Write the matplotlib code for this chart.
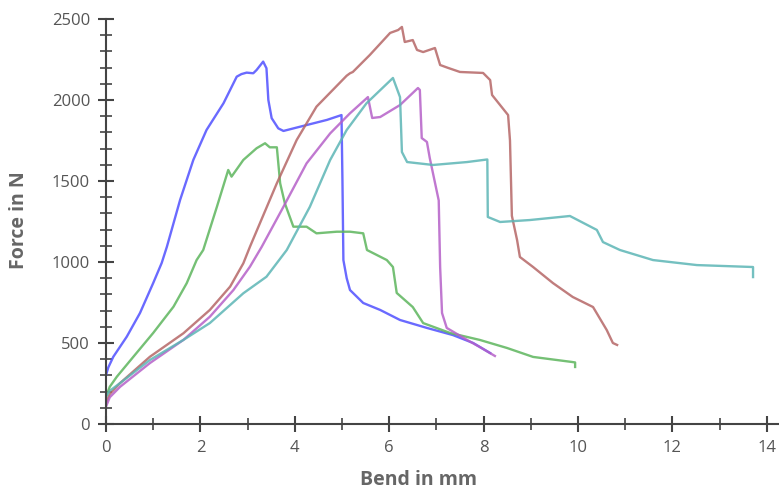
import matplotlib.pyplot as plt
from matplotlib.ticker import MultipleLocator

# digitised bend (mm) / force (N) curves
blue_x = [0, 0.05, 0.155, 0.44, 0.72, 1.0, 1.18, 1.29, 1.57, 1.85, 2.13, 2.49, 2.77, 2.87,
          2.98, 3.12, 3.19, 3.33, 3.40, 3.44, 3.51, 3.65, 3.76, 4.11, 4.68, 4.99, 5.01, 5.03,
          5.10, 5.17, 5.45, 5.81, 6.23, 6.80, 7.35, 7.78, 8.14]
blue_y = [302, 350, 415, 539, 685, 870, 994, 1094, 1383, 1630, 1815, 1980, 2144, 2160,
          2169, 2165, 2185, 2237, 2196, 2000, 1888, 1825, 1809, 1835, 1877, 1907, 1500, 1012,
          900, 827, 747, 704, 642, 593, 549, 500, 438]

green_x = [0, 0.08, 0.23, 0.58, 1.0, 1.43, 1.71, 1.92, 2.06, 2.35, 2.59, 2.66, 2.91, 3.19,
           3.37, 3.47, 3.62, 3.69, 3.79, 3.97, 4.25, 4.46, 4.89, 5.17, 5.45, 5.53, 5.95, 6.08,
           6.16, 6.50, 6.72, 7.29, 7.92, 8.50, 9.05, 9.87, 9.94, 9.94]
green_y = [169, 230, 292, 415, 562, 724, 869, 1012, 1074, 1341, 1568, 1527, 1630, 1702,
           1733, 1708, 1708, 1486, 1362, 1218, 1218, 1177, 1187, 1187, 1177, 1074, 1012, 969,
           809, 722, 623, 562, 519, 469, 414, 383, 380, 352]

brown_x = [0, 0.08, 0.30, 0.93, 1.64, 2.2, 2.63, 2.91, 3.05, 3.62, 4.04, 4.46, 5.10, 5.17,
           5.23, 5.59, 6.02, 6.19, 6.27, 6.33, 6.50, 6.59, 6.72, 6.97, 7.08, 7.25, 7.50, 7.99,
           8.14, 8.18, 8.52, 8.56, 8.60, 8.71, 8.77, 9.05, 9.47, 9.89, 10.32, 10.61, 10.74,
           10.83]
brown_y = [130, 185, 253, 415, 560, 704, 848, 992, 1094, 1486, 1753, 1959, 2150, 2165,
           2173, 2278, 2414, 2432, 2451, 2358, 2370, 2309, 2296, 2321, 2216, 2198, 2173, 2167,
           2123, 2031, 1907, 1750, 1285, 1136, 1031, 969, 870, 784, 722, 580, 500, 488]

magenta_x = [0, 0.08, 0.30, 0.93, 1.64, 2.2, 2.70, 3.05, 3.30, 3.76, 4.25, 4.75, 5.17, 5.52,
             5.55, 5.64, 5.81, 6.23, 6.61, 6.65, 6.69, 6.80, 6.86, 7.05, 7.08, 7.12, 7.22,
             7.65, 7.92, 8.24]
magenta_y = [107, 165, 230, 376, 519, 662, 827, 971, 1094, 1341, 1609, 1794, 1918, 2010,
             2018, 1889, 1895, 1969, 2074, 2062, 1765, 1741, 1642, 1380, 969, 685, 593,
             519, 475, 420]

teal_x = [0, 0.08, 0.30, 0.93, 1.64, 2.2, 2.91, 3.40, 3.83, 4.32, 4.75, 5.10, 5.52, 6.08,
          6.23, 6.27, 6.38, 6.93, 7.65, 8.08, 8.09, 8.35, 8.98, 9.83, 10.40, 10.53, 10.89,
          11.59, 12.52, 13.71, 13.71]
teal_y = [169, 205, 253, 395, 519, 623, 807, 909, 1074, 1341, 1630, 1815, 1980, 2136,
          2018, 1679, 1617, 1599, 1617, 1633, 1278, 1247, 1259, 1284, 1198, 1123, 1074,
          1012, 981, 969, 907]

curves = [(blue_x, blue_y, '#5050ff'),
          (green_x, green_y, '#5db55d'),
          (brown_x, brown_y, '#b56666'),
          (magenta_x, magenta_y, '#b560c8'),
          (teal_x, teal_y, '#5cb5b5')]

fig = plt.figure(figsize=(7.79, 4.93), dpi=100)
ax = fig.add_axes([106 / 779, 69 / 493, 673 / 779, 405 / 493])

for x, y, c in curves:
    ax.plot(x, y, color=c, lw=1.7, alpha=0.85, solid_joinstyle='round')

ax.set_xlim(0, 14.26)
ax.set_ylim(0, 2500)

for s in ['top', 'right']:
    ax.spines[s].set_visible(False)
for s in ['left', 'bottom']:
    ax.spines[s].set_color('#444444')
    ax.spines[s].set_linewidth(1.5)

ax.xaxis.set_major_locator(MultipleLocator(2))
ax.xaxis.set_minor_locator(MultipleLocator(1))
ax.yaxis.set_major_locator(MultipleLocator(500))
ax.yaxis.set_minor_locator(MultipleLocator(100))
ax.tick_params(which='major', direction='inout', length=11, width=1.5, color='#444444',
               labelcolor='#555555', labelsize=12, pad=6)
ax.tick_params(which='minor', direction='inout', length=8, width=1.2, color='#444444')
for lab in ax.get_xticklabels() + ax.get_yticklabels():
    lab.set_family('Open Sans')

ax.set_xlabel('Bend in mm', fontsize=14, fontweight='bold', color='#666666',
              family='Open Sans', va='center', ha='center')
ax.xaxis.set_label_coords((419 - 106) / 673, (424 - 480) / 405)
ax.set_ylabel('Force in N', fontsize=14, fontweight='bold', color='#666666',
              family='Open Sans', va='center', ha='center')
ax.yaxis.set_label_coords((19 - 106) / 673, (424 - 220) / 405)

fig.savefig('out.png', dpi=100)
